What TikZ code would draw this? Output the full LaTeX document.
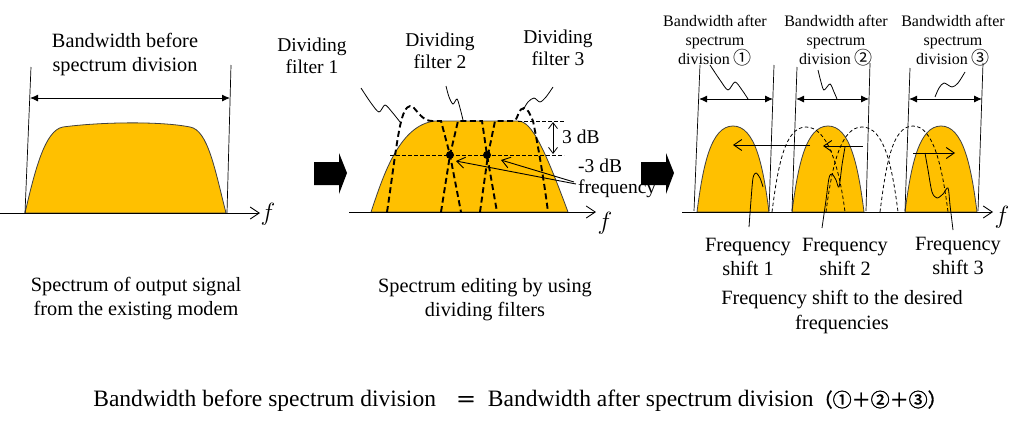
\documentclass[tikz,border=0pt]{standalone}
\usepackage{fontspec}
\setmainfont{Liberation Serif}
\newfontfamily\cjk{Noto Sans CJK JP}
\newfontfamily\cjkbold[FakeBold=1.5]{Noto Sans CJK JP}
\usetikzlibrary{arrows.meta,calc}
\definecolor{specfill}{HTML}{FFC000}
\definecolor{specline}{HTML}{404040}
\tikzset{
  lbl/.style={font=\fontsize{20.3}{24}\selectfont, align=center, inner sep=0pt},
  mlbl/.style={font=\fontsize{19.5}{22}\selectfont, align=center, inner sep=0pt},
  slbl/.style={font=\fontsize{16}{19}\selectfont, align=center, inner sep=0pt},
  fvar/.style={font=\fontsize{24}{24}\selectfont, inner sep=0pt},
  spec/.style={fill=specfill, draw=specline, line width=0.8pt},
  axis/.style={line width=0.9pt, -{Straight Barb[length=9pt,width=12pt]}},
  vline/.style={line width=0.7pt},
  dimarrow/.style={line width=0.9pt, {Latex[length=8pt,width=7pt]}-{Latex[length=8pt,width=7pt]}},
  dimopen/.style={line width=0.8pt, {Straight Barb[length=6pt,width=9pt]}-{Straight Barb[length=6pt,width=9pt]}},
  filt/.style={line width=1.9pt, dash pattern=on 6pt off 3.5pt},
  thindash/.style={line width=0.8pt, dash pattern=on 3.5pt off 2.5pt},
  pointer/.style={line width=0.8pt},
  openarrow/.style={line width=0.9pt, -{Straight Barb[length=8pt,width=11pt]}},
  bigarrow/.style={fill=black}
}
\begin{document}
\begin{tikzpicture}[x=1pt,y=-1pt]
\useasboundingbox (0,0) rectangle (1024,424);
\fill[white] (0,0) rectangle (1024,424);

% ---------------- Panel 1 ----------------
\path[spec] (25,213) .. controls (35,170) and (45,130) .. (63,127)
  .. controls (100,122) and (160,121) .. (190,127)
  .. controls (208,130) and (215,170) .. (226,213) -- cycle;
\draw[axis] (0,213) -- (260,213);
\node[fvar] (f1) at (268,214) {$f$};
\coordinate (v1t) at (31,67); \coordinate (v1b) at (25,213);
\coordinate (v2t) at (231,65); \coordinate (v2b) at (227,213);
\draw[vline] (v1t) -- (v1b);
\draw[vline] (v2t) -- (v2b);
\coordinate (bw1l) at (30,98); \coordinate (bw1r) at (230,98);
\draw[dimarrow] (bw1l) -- (bw1r);
\node[lbl] (bwbefore) at (125,55) {Bandwidth before\\spectrum division};
\node[lbl] (cap1) at (136,299) {Spectrum of output signal\\from the existing modem};

% big arrow 1
\path[bigarrow] (314,162) -- (339,162) -- (339,153) -- (347,173) -- (339,194) -- (339,185) -- (314,185) -- cycle;

% ---------------- Panel 2 ----------------
\path[spec] (371,212) .. controls (382,180) and (398,125) .. (435,121)
  -- (518,121) .. controls (532,121) and (545,150) .. (568,212) -- cycle;
\draw[axis] (349,212) -- (596,212);
\node[fvar] (f2) at (605,223) {$f$};
% filters
\draw[filt] (387,212) .. controls (392,180) and (397,135) .. (402,118)
  .. controls (405,108) and (409,104) .. (413,107)
  .. controls (418,112) and (423,121) .. (432,121) -- (441,121) -- (450,155) -- (461,212);
\draw[filt] (441,212) -- (450,155) -- (458,121) -- (482,121) -- (487,155) -- (497,212);
\draw[filt] (480,212) -- (488,155) -- (495,121) -- (515,121)
  .. controls (518,117) and (519,108) .. (524,108)
  .. controls (528,108) and (530,115) .. (533,121)
  .. controls (537,140) and (544,180) .. (548,212);
% -3 dB lines
\draw[thindash] (518,121) -- (564,121);
\draw[thindash] (390,155) -- (564,155);
\draw[dimopen] (553,122) -- (553,154);
\node[mlbl, anchor=west] (db3) at (562,137) {3 dB};
\node[mlbl, anchor=west] (mdb3) at (578,166) {-3 dB};
\node[mlbl, anchor=west] (freq) at (578,189) {frequency};
\node[circle, fill=black, inner sep=0pt, minimum size=8pt] (dot1) at (450,155) {};
\node[circle, fill=black, inner sep=0pt, minimum size=8pt] (dot2) at (487,155) {};
\coordinate (fq1) at (576,184);
\coordinate (fq2) at (574,182);
\draw[openarrow] (fq1) -- ($(dot1)+(6,6)$);
\draw[openarrow] (fq2) -- ($(dot2)+(14,5)$);
% labels
\node[mlbl] (df1) at (312,56) {Dividing\\filter 1};
\node[mlbl] (df2) at (440,51) {Dividing\\filter 2};
\node[mlbl] (df3) at (558,48) {Dividing\\filter 3};
\draw[pointer] plot[smooth] coordinates {(361,88) (371,103) (379,112) (385,105) (392,112) (400,122)};
\draw[pointer] plot[smooth] coordinates {(446,86) (449,97) (453,104) (457,99) (460,108) (463,120)};
\draw[pointer] plot[smooth] coordinates {(553,87) (546,97) (540,102) (534,98) (528,102) (523,110)};
\node[lbl] (cap2) at (485,300) {Spectrum editing by using\\dividing filters};

% big arrow 2
\path[bigarrow] (641,162) -- (666,162) -- (666,153) -- (674,173) -- (666,194) -- (666,185) -- (641,185) -- cycle;

% ---------------- Panel 3 ----------------
\path[spec] (697,212) .. controls (703,165) and (711,126) .. (733,126)
  .. controls (755,126) and (763,165) .. (769,212) -- cycle;
\path[spec] (792,212) .. controls (798,165) and (806,126) .. (828,126)
  .. controls (850,126) and (858,165) .. (864,212) -- cycle;
\path[spec] (905,212) .. controls (911,165) and (919,126) .. (941,126)
  .. controls (963,126) and (971,165) .. (977,212) -- cycle;
\draw[thindash] (772,212) .. controls (778,165) and (785,127) .. (806,127)
  .. controls (827,127) and (839,165) .. (845,212);
\draw[thindash] (826,212) .. controls (832,165) and (841,127) .. (862,127)
  .. controls (884,127) and (892,165) .. (898,212);
\draw[thindash] (880,212) .. controls (886,165) and (892,126) .. (913,126)
  .. controls (933,126) and (942,165) .. (948,212);
\draw[axis] (682,212) -- (993,212);
\node[fvar] (f3) at (1002,217) {$f$};
% vertical lines
\coordinate (a1t) at (700,65); \coordinate (a1b) at (694,211);
\coordinate (a2t) at (774,65); \coordinate (a2b) at (769,211);
\coordinate (b1t) at (797,67); \coordinate (b1b) at (792,211);
\coordinate (b2t) at (870,63); \coordinate (b2b) at (866,211);
\coordinate (c1t) at (910,68); \coordinate (c1b) at (905,211);
\coordinate (c2t) at (983,63); \coordinate (c2b) at (978,211);
\foreach \p in {a1,a2,b1,b2,c1,c2} {\draw[vline] (\p t) -- (\p b);}
\draw[dimarrow] (699,99) -- (773,99);
\draw[dimarrow] (796,99) -- (869,99);
\draw[dimarrow] (909,99) -- (982,99);
% labels
\node[slbl] (bwa1) at (715,41) {Bandwidth after\\spectrum\\division {\cjk\fontsize{18}{19}\selectfont ①}};
\node[slbl] (bwa2) at (836,41) {Bandwidth after\\spectrum\\division {\cjk\fontsize{18}{19}\selectfont ②}};
\node[slbl] (bwa3) at (953,41) {Bandwidth after\\spectrum\\division {\cjk\fontsize{18}{19}\selectfont ③}};
\draw[pointer] plot[smooth] coordinates {(710,65) (720,80) (728,90) (735,82) (742,90) (748,99)};
\draw[pointer] plot[smooth] coordinates {(818,70) (821,82) (824,90) (830,84) (834,92) (837,99)};
\draw[pointer] plot[smooth] coordinates {(965,72) (958,83) (952,87) (944,83) (939,88) (935,97)};
% shift arrows
\draw[openarrow] (810,145) -- (733,145);
\draw[openarrow] (863,146) -- (823,146);
\draw[openarrow] (913,153) -- (955,153);
% shift pointers
\draw[pointer] plot[smooth] coordinates {(749,227) (751,200) (753,178) (756,173) (760,178) (763,187)};
\draw[pointer] plot[smooth] coordinates {(822,228) (826,200) (829,178) (832,174) (836,180) (839,187) (842,165) (845,147)};
\draw[pointer] plot[smooth] coordinates {(953,230) (950,205) (948,188) (943,194) (937,198) (932,192) (928,170) (925,153)};
\node[lbl] (fs1) at (748,257) {Frequency\\shift 1};
\node[lbl] (fs2) at (845,257) {Frequency\\shift 2};
\node[lbl] (fs3) at (958,256) {Frequency\\shift 3};
\node[lbl, font=\fontsize{20.3}{25}\selectfont] (cap3) at (842,312) {Frequency shift to the desired\\frequencies};

% ---------------- Equation ----------------
\node[lbl, font=\fontsize{23.5}{26}\selectfont] (eq) at (520,401) {Bandwidth before spectrum division\hspace{20pt}{\cjkbold\fontsize{20}{24}\selectfont ＝}\hspace{12pt}Bandwidth after spectrum division{\cjkbold\fontsize{19}{24}\selectfont （①＋②＋③）}};
\end{tikzpicture}
\end{document}
